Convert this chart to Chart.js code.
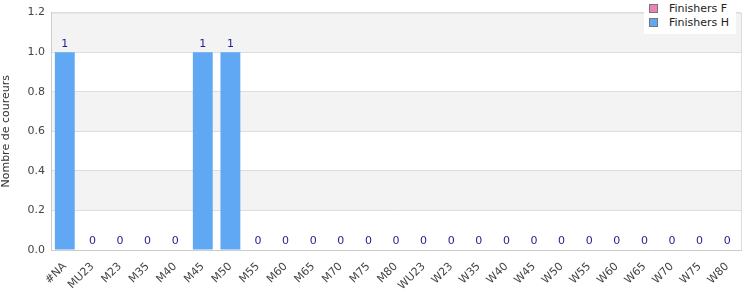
<!DOCTYPE html>
<html>
<head>
<meta charset="utf-8">
<script src="https://cdn.jsdelivr.net/npm/chart.js@4/dist/chart.umd.min.js"></script>
<style>
  body { margin: 0; background: #fff; font-family: "DejaVu Sans", sans-serif; }
  #wrap { position: relative; width: 750px; height: 300px; }
  #legend { position: absolute; left: 644px; top: 0; width: 92px; height: 34px; background: #fff; font-size: 11px; color: #222; }
  #legend div { position: absolute; left: 5px; height: 14px; line-height: 14px; }
  #legend span.sw { display: inline-block; width: 7px; height: 7px; border: 1px solid #777; margin-right: 11px; vertical-align: -1px; }
</style>
</head>
<body>
<div id="wrap">
  <canvas id="graphId" width="750" height="300"></canvas>
  <div id="legend">
    <div style="top:2px"><span class="sw" style="background:#f080b8"></span>Finishers F</div>
    <div style="top:16px"><span class="sw" style="background:#60a8f4"></span>Finishers H</div>
  </div>
</div>
<script>
var categories = ['#NA', 'MU23', 'M23', 'M35', 'M40', 'M45', 'M50', 'M55', 'M60', 'M65', 'M70', 'M75', 'M80',
    'WU23', 'W23', 'W35', 'W40', 'W45', 'W50', 'W55', 'W60', 'W65', 'W70', 'W75', 'W80'];
var finishersF = [0, 0, 0, 0, 0, 0, 0, 0, 0, 0, 0, 0, 0, 0, 0, 0, 0, 0, 0, 0, 0, 0, 0, 0, 0];
var finishersH = [1, 0, 0, 0, 0, 1, 1, 0, 0, 0, 0, 0, 0, 0, 0, 0, 0, 0, 0, 0, 0, 0, 0, 0, 0];
var yTicks = [0, 0.2, 0.4, 0.6, 0.8, 1.0, 1.2];

// alternating bands behind the bars
var bandsPlugin = {
    id: 'bands',
    beforeDraw: function(chart) {
        var ctx = chart.ctx, a = chart.chartArea, y = chart.scales.y;
        ctx.save();
        for (var i = 1; i < yTicks.length; i += 2) {
            var top = y.getPixelForValue(yTicks[i + 1] !== undefined ? yTicks[i + 1] : yTicks[i]);
            var bot = y.getPixelForValue(yTicks[i]);
            ctx.fillStyle = '#f3f3f3';
            ctx.fillRect(a.left, top, a.right - a.left, bot - top);
        }
        ctx.strokeStyle = '#dddddd';
        ctx.lineWidth = 1;
        ctx.beginPath();
        ctx.moveTo(a.left, a.top + 0.5);
        ctx.lineTo(a.right + 0.5, a.top + 0.5);
        ctx.lineTo(a.right + 0.5, a.bottom);
        ctx.stroke();
        ctx.restore();
    }
};

// total above each stack
var totalsPlugin = {
    id: 'totals',
    afterDatasetsDraw: function(chart) {
        var ctx = chart.ctx, meta = chart.getDatasetMeta(1), y = chart.scales.y;
        ctx.save();
        ctx.font = '11px "DejaVu Sans"';
        ctx.fillStyle = '#1f1f8f';
        ctx.textAlign = 'center';
        ctx.textBaseline = 'bottom';
        meta.data.forEach(function(bar, i) {
            var total = finishersF[i] + finishersH[i];
            ctx.fillText(String(total), bar.x, y.getPixelForValue(total) - 3);
        });
        ctx.restore();
    }
};

var ctx = document.getElementById('graphId').getContext('2d');
var myChart = new Chart(ctx, {
    type: 'bar',
    data: {
        labels: categories,
        datasets: [
            { label: 'Finishers F', data: finishersF, backgroundColor: '#f080b8', barPercentage: 0.72, categoryPercentage: 1 },
            { label: 'Finishers H', data: finishersH, backgroundColor: '#60a8f4', barPercentage: 0.72, categoryPercentage: 1 }
        ]
    },
    options: {
        responsive: false,
        animation: false,
        layout: { padding: { top: 8, right: 9, left: 0, bottom: 0 } },
        plugins: { legend: { display: false }, tooltip: { enabled: false } },
        scales: {
            x: {
                stacked: true,
                grid: { display: false },
                border: { color: '#cccccc' },
                ticks: { color: '#444', font: { family: 'DejaVu Sans', size: 11 }, maxRotation: 45, minRotation: 45, autoSkip: false, padding: 2 },
                afterFit: function(s) { s.height = 50; }
            },
            y: {
                stacked: true,
                min: 0, max: 1.2,
                afterBuildTicks: function(s) { s.ticks = yTicks.map(function(v) { return { value: v }; }); },
                grid: { color: '#dddddd', drawTicks: false },
                border: { color: '#cccccc' },
                ticks: { color: '#444', font: { family: 'DejaVu Sans', size: 11 }, padding: 6,
                    callback: function(v) { return v.toFixed(1); } },
                title: { display: true, text: 'Nombre de coureurs', color: '#333', font: { family: 'DejaVu Sans', size: 11 }, padding: 0 },
                afterFit: function(s) { s.width = 51; }
            }
        }
    },
    plugins: [bandsPlugin, totalsPlugin]
});
</script>
</body>
</html>
